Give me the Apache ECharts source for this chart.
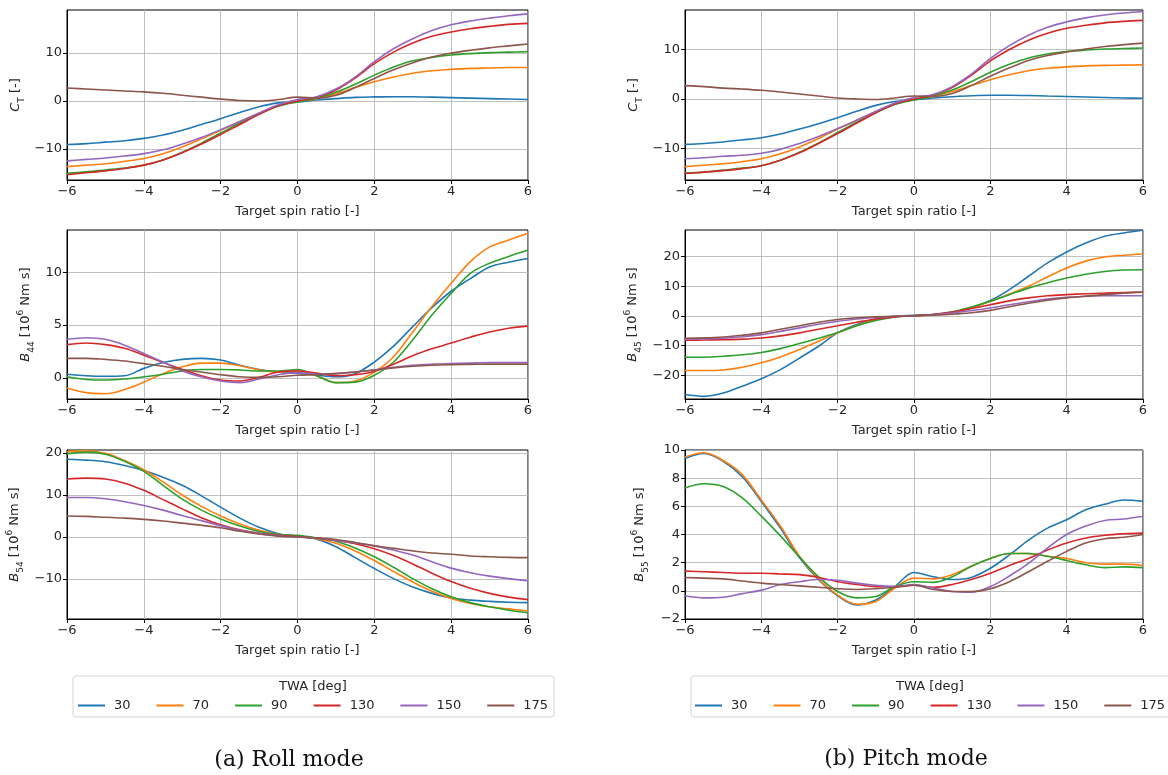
<!DOCTYPE html>
<html><head><meta charset="utf-8">
<script src="https://cdn.jsdelivr.net/npm/echarts@6/dist/echarts.min.js"></script>
<style>html,body{margin:0;padding:0;background:#fff}#c{width:1168px;height:775px}</style>
</head><body><div id="c"></div>
<script>
// ---------- data ----------
const xs = [-6,-5.5,-5,-4.5,-4,-3.5,-3,-2.5,-2,-1.5,-1,-0.5,0,0.5,1,1.5,2,2.5,3,3.5,4,4.5,5,5.5,6];
const twa = ['30','70','90','130','150','175'];
const colors = ['#1f77b4','#ff7f0e','#2ca02c','#d62728','#9467bd','#8c564b'];

// Roll mode
const rollCT = [
  [-9.1,-8.9,-8.6,-8.3,-7.8,-7.1,-6.1,-4.9,-3.7,-2.4,-1.2,-0.4,-0.2,0.2,0.5,0.75,0.85,0.9,0.9,0.8,0.7,0.6,0.5,0.4,0.3],
  [-13.7,-13.4,-13.1,-12.6,-12.0,-11.0,-9.6,-7.9,-6.1,-4.3,-2.6,-1.0,-0.1,0.5,1.5,2.8,4.0,5.0,5.8,6.3,6.6,6.8,6.9,7.0,7.0],
  [-15.1,-14.8,-14.4,-14.0,-13.4,-12.3,-10.7,-8.8,-6.7,-4.6,-2.7,-1.1,-0.2,0.6,1.8,3.5,5.4,7.1,8.4,9.1,9.6,9.9,10.1,10.2,10.3],
  [-15.4,-15.0,-14.6,-14.1,-13.4,-12.3,-10.8,-9.0,-7.0,-4.9,-2.8,-1.0,0.0,0.8,2.3,4.8,7.8,10.2,12.1,13.5,14.4,15.1,15.6,16.0,16.2],
  [-12.5,-12.2,-11.9,-11.5,-11.0,-10.2,-9.0,-7.6,-6.0,-4.3,-2.5,-0.8,0.3,0.9,2.5,5.0,8.2,10.9,13.0,14.7,15.9,16.7,17.3,17.8,18.2],
  [2.7,2.5,2.3,2.1,1.9,1.6,1.2,0.8,0.4,0.1,0.0,0.3,0.8,0.6,1.2,2.8,4.7,6.5,8.0,9.2,10.0,10.6,11.1,11.5,11.9]
];
const rollB44 = [
  [0.35,0.2,0.15,0.2,0.9,1.45,1.75,1.85,1.7,1.2,0.8,0.55,0.45,0.25,0.1,0.4,1.5,3.0,4.85,6.65,8.2,9.4,10.5,10.95,11.3],
  [-0.95,-1.4,-1.5,-1.1,-0.4,0.4,1.05,1.4,1.4,1.15,0.75,0.55,0.65,0.2,-0.45,-0.3,0.55,2.0,4.35,6.75,8.95,11.0,12.4,13.05,13.7],
  [0.1,-0.15,-0.2,-0.1,0.1,0.35,0.65,0.8,0.8,0.75,0.65,0.65,0.8,0.2,-0.45,-0.4,0.25,1.5,3.6,5.95,8.0,9.9,10.85,11.5,12.1],
  [3.15,3.3,3.15,2.8,2.15,1.45,0.8,0.2,-0.2,-0.3,0.05,0.55,0.65,0.45,0.2,0.3,0.6,1.3,2.1,2.75,3.3,3.85,4.35,4.7,4.9],
  [3.65,3.8,3.65,3.1,2.3,1.5,0.65,0.1,-0.3,-0.45,-0.1,0.3,0.5,0.35,0.4,0.55,0.75,1.0,1.2,1.3,1.35,1.4,1.45,1.45,1.45],
  [1.85,1.85,1.75,1.6,1.35,1.1,0.8,0.55,0.3,0.1,0.05,0.1,0.25,0.3,0.4,0.55,0.75,0.95,1.1,1.2,1.25,1.28,1.3,1.3,1.3]
];
const rollB54 = [
  [18.5,18.3,17.9,17.0,15.8,14.2,12.3,9.8,7.1,4.5,2.3,0.8,0.2,-0.5,-2.3,-4.9,-7.5,-9.9,-11.9,-13.4,-14.5,-15.0,-15.3,-15.5,-15.6],
  [20.3,20.5,19.9,18.2,16.0,13.1,10.0,7.3,5.0,3.1,1.6,0.6,0.2,-0.4,-1.5,-3.3,-5.6,-8.2,-10.7,-12.9,-14.6,-15.8,-16.6,-17.1,-17.6],
  [19.8,20.2,19.7,18.0,15.6,12.3,9.0,6.4,4.3,2.6,1.3,0.6,0.4,-0.2,-1.0,-2.6,-4.7,-7.2,-9.9,-12.3,-14.2,-15.6,-16.6,-17.4,-18.0],
  [13.8,14.0,13.8,12.8,11.1,8.9,6.7,4.6,2.9,1.7,0.9,0.4,0.1,-0.3,-0.8,-1.6,-2.8,-4.4,-6.4,-8.6,-10.6,-12.2,-13.4,-14.3,-14.9],
  [9.4,9.4,9.1,8.4,7.5,6.4,5.1,3.9,2.7,1.6,0.8,0.3,0.0,-0.3,-0.8,-1.4,-2.1,-3.1,-4.3,-5.9,-7.4,-8.5,-9.3,-9.9,-10.4],
  [5.0,4.9,4.7,4.5,4.2,3.8,3.3,2.8,2.2,1.4,0.7,0.2,0.0,-0.2,-0.6,-1.3,-2.1,-2.7,-3.3,-3.8,-4.1,-4.5,-4.7,-4.85,-4.9]
];
// Pitch mode
const pitchCT = [
  [-9.2,-9.0,-8.7,-8.3,-7.85,-7.1,-6.1,-5.0,-3.8,-2.5,-1.3,-0.5,-0.2,0.2,0.45,0.65,0.75,0.75,0.7,0.6,0.5,0.4,0.3,0.2,0.15],
  [-13.7,-13.4,-13.1,-12.7,-12.1,-11.1,-9.7,-8.0,-6.1,-4.3,-2.6,-1.0,-0.1,0.5,1.5,2.7,3.9,4.9,5.7,6.2,6.5,6.7,6.8,6.85,6.9],
  [-15.0,-14.8,-14.4,-14.0,-13.5,-12.4,-10.8,-8.9,-6.8,-4.7,-2.8,-1.1,-0.2,0.6,1.8,3.5,5.4,7.0,8.3,9.1,9.6,9.9,10.1,10.2,10.3],
  [-15.1,-14.8,-14.5,-14.1,-13.5,-12.4,-10.9,-9.0,-7.0,-4.9,-2.8,-1.0,0.0,0.8,2.3,4.8,7.7,10.0,11.9,13.3,14.3,14.9,15.4,15.7,15.9],
  [-12.1,-11.9,-11.6,-11.4,-11.0,-10.2,-9.0,-7.6,-6.0,-4.3,-2.5,-0.8,0.3,0.9,2.5,5.0,8.2,10.8,12.9,14.5,15.6,16.4,17.0,17.4,17.7],
  [2.7,2.5,2.2,2.0,1.75,1.4,1.0,0.6,0.2,0.0,-0.1,0.2,0.6,0.5,1.1,2.7,4.6,6.3,7.8,8.8,9.5,10.1,10.6,11.0,11.3]
];
const pitchB45 = [
  [-26.5,-27.1,-26.0,-23.7,-21.2,-18.1,-14.2,-10.2,-5.7,-2.9,-1.0,-0.1,0.2,0.45,1.2,2.7,5.2,8.9,13.4,17.9,21.6,24.6,26.9,28.0,28.9],
  [-18.4,-18.4,-18.2,-17.3,-15.8,-13.8,-11.3,-8.5,-5.7,-3.2,-1.3,-0.2,0.1,0.4,1.2,2.7,4.9,7.4,10.0,13.2,16.2,18.5,19.9,20.5,20.9],
  [-13.9,-13.9,-13.6,-13.1,-12.3,-11.0,-9.3,-7.5,-5.6,-3.3,-1.5,-0.3,0.1,0.5,1.4,3.0,5.0,7.2,9.4,11.2,12.8,14.1,15.0,15.5,15.6],
  [-8.2,-8.1,-8.0,-7.8,-7.4,-6.7,-5.7,-4.5,-3.3,-2.1,-1.0,-0.3,0.1,0.5,1.3,2.5,3.8,5.1,6.1,6.8,7.2,7.5,7.7,7.9,8.0],
  [-7.8,-7.7,-7.5,-7.0,-6.3,-5.2,-4.0,-2.8,-1.8,-1.0,-0.5,-0.1,0.1,0.4,1.0,1.8,2.7,3.8,4.8,5.7,6.3,6.6,6.8,6.8,6.8],
  [-7.5,-7.4,-7.1,-6.5,-5.7,-4.5,-3.3,-2.1,-1.2,-0.6,-0.3,-0.1,0.1,0.3,0.6,1.1,1.9,3.1,4.3,5.3,6.1,6.7,7.2,7.7,8.1]
];
const pitchB55 = [
  [9.4,9.75,9.2,8.1,6.35,4.45,2.35,0.8,-0.35,-1.0,-0.65,0.3,1.3,1.0,0.8,0.95,1.6,2.55,3.6,4.45,5.05,5.75,6.15,6.45,6.35],
  [9.5,9.8,9.25,8.25,6.45,4.6,2.45,0.85,-0.3,-0.95,-0.75,0.2,0.9,0.85,1.15,1.75,2.3,2.65,2.65,2.45,2.3,2.0,1.9,1.9,1.8],
  [7.3,7.6,7.4,6.6,5.3,3.9,2.4,1.0,-0.05,-0.5,-0.4,0.3,0.65,0.6,1.0,1.75,2.3,2.65,2.65,2.45,2.15,1.85,1.65,1.7,1.65],
  [1.4,1.35,1.3,1.25,1.25,1.2,1.15,0.95,0.65,0.45,0.3,0.3,0.4,0.25,0.45,0.8,1.25,1.8,2.3,2.9,3.4,3.75,3.95,4.05,4.1],
  [-0.35,-0.5,-0.45,-0.2,0.05,0.45,0.65,0.8,0.75,0.55,0.4,0.3,0.45,0.2,-0.05,-0.1,0.3,1.05,1.95,3.05,4.0,4.6,5.0,5.1,5.3],
  [0.95,0.9,0.85,0.7,0.55,0.45,0.35,0.25,0.15,0.1,0.15,0.25,0.4,0.1,-0.05,-0.05,0.15,0.65,1.35,2.1,2.8,3.4,3.7,3.8,4.0]
];
const xTicks = [-6,-4,-2,0,2,4,6];

// ---------- layout ----------
const FONT = 'DejaVu Sans';
const TXT = '#262626';
const colLeft = [67, 685], colWidth = [461, 458];
const rows = [{top:10,height:170},{top:230,height:169},{top:450,height:169}];
const nameCT = '{i|C}{s|T}{n| [-]}';
const nameB = k => '{i|B}{s|' + k + '}{n| [10}{p|6}{n| Nm s]}';
const panels = [
  {col:0,row:0,data:rollCT, min:-16.5,max:19,  ticks:[-10,0,10], name:nameCT, gap:41},
  {col:0,row:1,data:rollB44,min:-2,   max:14,  ticks:[0,5,10], name:nameB('44'), gap:31},
  {col:0,row:2,data:rollB54,min:-19.5,max:20.7,ticks:[-10,0,10,20], name:nameB('54'), gap:42},
  {col:1,row:0,data:pitchCT, min:-16.4,max:18, ticks:[-10,0,10], name:nameCT, gap:41},
  {col:1,row:1,data:pitchB45,min:-28, max:29,  ticks:[-20,-10,0,10,20], name:nameB('45'), gap:42},
  {col:1,row:2,data:pitchB55,min:-2,  max:10,  ticks:[-2,0,2,4,6,8,10], name:nameB('55'), gap:35}
];
const fmt = v => String(v).replace('-', '\u2212');
const grids = [], xAxes = [], yAxes = [], series = [];
panels.forEach((p, gi) => {
  grids.push({left: colLeft[p.col], width: colWidth[p.col], top: rows[p.row].top, height: rows[p.row].height,
    show: true, borderColor: '#000', borderWidth: 1, backgroundColor: 'transparent'});
  xAxes.push({type:'value', gridIndex: gi, min:-6, max:6,
    name:'Target spin ratio [-]', nameLocation:'middle', nameGap: 25,
    nameTextStyle:{fontFamily:FONT, fontSize:13, color:TXT},
    axisLine:{show:true, onZero:false, lineStyle:{color:'#000', width:1}},
    axisTick:{show:true, length:4, customValues:xTicks, lineStyle:{color:'#000'}},
    axisLabel:{customValues:xTicks, formatter:fmt, fontFamily:FONT, fontSize:13, color:TXT, margin:5},
    splitLine:{show:true, lineStyle:{color:'#b0b0b0', width:0.8}}});
  yAxes.push({type:'value', gridIndex: gi, min:p.min, max:p.max,
    name:p.name, nameLocation:'middle', nameGap: p.gap, nameRotate: 90,
    nameTextStyle:{fontFamily:FONT, fontSize:13, color:TXT,
      rich:{ i:{fontFamily:FONT, fontStyle:'italic', fontSize:13, color:TXT, lineHeight:20},
             n:{fontFamily:FONT, fontSize:13, color:TXT, lineHeight:20},
             s:{fontFamily:FONT, fontSize:9, color:TXT, lineHeight:10, verticalAlign:'bottom'},
             p:{fontFamily:FONT, fontSize:9, color:TXT, lineHeight:10, verticalAlign:'top'} }},
    axisLine:{show:true, onZero:false, lineStyle:{color:'#000', width:1}},
    axisTick:{show:true, length:4, customValues:p.ticks, lineStyle:{color:'#000'}},
    axisLabel:{customValues:p.ticks, formatter:fmt, fontFamily:FONT, fontSize:13, color:TXT, margin:5},
    splitLine:{show:true, lineStyle:{color:'#b0b0b0', width:0.8}}});
  p.data.forEach((vals, si) => {
    series.push({type:'line', name: twa[si], xAxisIndex: gi, yAxisIndex: gi,
      data: xs.map((x, k) => [x, vals[k]]), smooth: 0.35, showSymbol:false, symbol:'none',
      lineStyle:{color: colors[si], width:1.6}, itemStyle:{color: colors[si]},
      emphasis:{disabled:true}, silent:true, clip:true});
  });
});

const legendBase = {orient:'horizontal', icon:'rect', itemHeight:2, itemWidth:27, itemGap:26, selectedMode:false,
  borderColor:'#d4d4d4', borderWidth:1, borderRadius:3, data: twa, width: 480,
  textStyle:{fontFamily:FONT, fontSize:13, color:TXT, padding:[0,0,0,4]}};

const chart = echarts.init(document.getElementById('c'), null, {renderer:'canvas'});
chart.setOption({
  animation:false,
  color: colors,
  grid: grids, xAxis: xAxes, yAxis: yAxes, series: series,
  legend: [
    Object.assign({}, legendBase, {left:73, top:676, padding:[23,6,5,5]}),
    Object.assign({}, legendBase, {left:691, top:676, padding:[23,6,5,4]})
  ],
  graphic: [
    {type:'text', x:313, y:687, style:{text:'TWA [deg]', align:'center', verticalAlign:'middle', font:'13px "DejaVu Sans"', fill:TXT}},
    {type:'text', x:930, y:687, style:{text:'TWA [deg]', align:'center', verticalAlign:'middle', font:'13px "DejaVu Sans"', fill:TXT}},
    {type:'text', x:289, y:760, style:{text:'(a) Roll mode', align:'center', verticalAlign:'middle', font:'22px "DejaVu Serif"', fill:'#111'}},
    {type:'text', x:906, y:759, style:{text:'(b) Pitch mode', align:'center', verticalAlign:'middle', font:'22px "DejaVu Serif"', fill:'#111'}}
  ]
});
</script>
</body></html>
